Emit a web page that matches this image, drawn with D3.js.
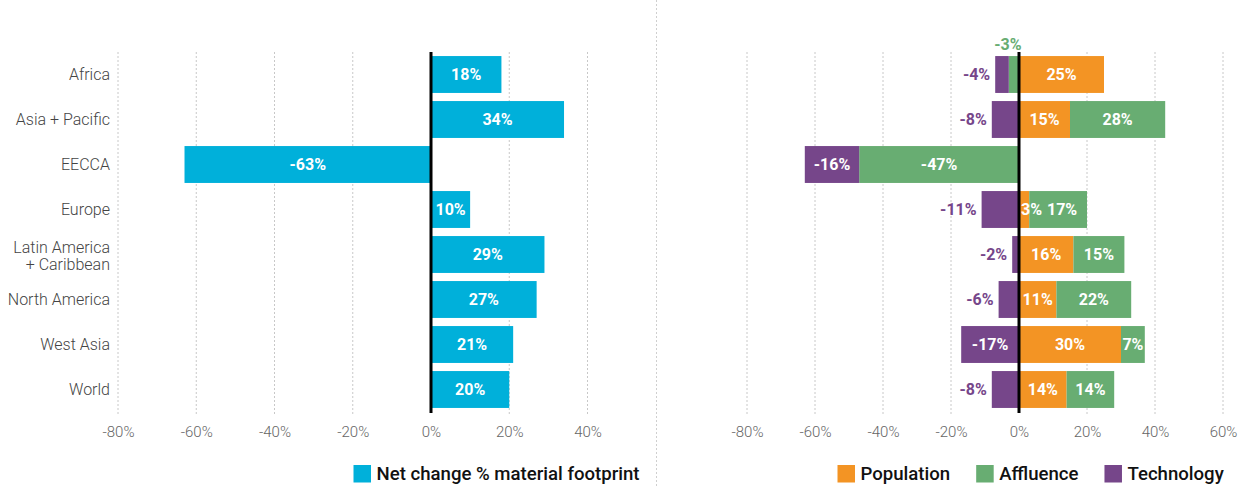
<!DOCTYPE html>
<html>
<head>
<meta charset="utf-8">
<script src="https://cdn.jsdelivr.net/npm/d3@7"></script>
<style>
  body { margin: 0; background: #fff; }
  text { font-family: Roboto, "Noto Sans", sans-serif; }
</style>
</head>
<body>
<div id="container"></div>
<script>
// data
var regions = ["Africa", "Asia + Pacific", "EECCA", "Europe", "Latin America + Caribbean", "North America", "West Asia", "World"];
var netChange = [18, 34, -63, 10, 29, 27, 21, 20];
var population = [25, 15, 0, 3, 16, 11, 30, 14];
var affluence = [-3, 28, -47, 17, 15, 22, 7, 14];
var technology = [-4, -8, -16, -11, -2, -6, -17, -8];
var tickValues = [-80, -60, -40, -20, 0, 20, 40, 60];

var width = 1250, height = 486;
var colors = { net: "#00b0da", population: "#f39424", affluence: "#68ad72", technology: "#76468a" };

var svg = d3.select("#container").append("svg")
    .attr("width", width)
    .attr("height", height);

// shared row scale
var y = d3.scaleBand()
    .domain(regions)
    .range([52, 412])
    .paddingInner(0.18)
    .paddingOuter(0.09);

var xLeft = d3.scaleLinear().domain([-80, 40]).range([118, 587.5]);
var xRight = d3.scaleLinear().domain([-80, 60]).range([747, 1223]);

// panel divider
svg.append("line")
    .attr("x1", 656.5).attr("x2", 656.5)
    .attr("y1", 0).attr("y2", height)
    .attr("stroke", "#cfcfcf")
    .attr("stroke-dasharray", "2,2");

function drawGrid(x, ticks) {
  svg.append("g").selectAll("line")
      .data(ticks.filter(function(d) { return d !== 0; }))
      .enter().append("line")
      .attr("x1", function(d) { return x(d); })
      .attr("x2", function(d) { return x(d); })
      .attr("y1", 52).attr("y2", 414)
      .attr("stroke", "#c8c8c8")
      .attr("stroke-dasharray", "2,2");

  var axis = d3.axisBottom(x)
      .tickValues(ticks)
      .tickSize(0)
      .tickPadding(0)
      .tickFormat(function(d) { return d + "%"; });
  var g = svg.append("g")
      .attr("transform", "translate(0,426)")
      .call(axis);
  g.select(".domain").remove();
  g.selectAll("text")
      .attr("dy", "0.71em")
      .style("font-size", "15px")
      .style("font-weight", 300)
      .style("font-family", "Roboto")
      .attr("fill", "#666");
}

drawGrid(xLeft, tickValues.filter(function(d) { return d <= 40; }));
drawGrid(xRight, tickValues);

// category labels
var cat = svg.append("g");
regions.forEach(function(r) {
  var cy = y(r) + y.bandwidth() / 2;
  var t = cat.append("text")
      .attr("x", 110)
      .attr("text-anchor", "end")
      .style("font-size", "16px")
      .style("font-weight", 300)
      .attr("fill", "#444");
  if (r === "Latin America + Caribbean") {
    t.append("tspan").attr("x", 110).attr("y", cy - 2).text("Latin America");
    t.append("tspan").attr("x", 110).attr("y", cy + 15).text("+ Caribbean");
  } else {
    t.attr("y", cy).attr("dy", "0.35em").text(r);
  }
});

// left bars
var labelStyle = function(sel) {
  sel.style("font-size", "16px").style("font-weight", 700).attr("dy", "0.36em");
};

svg.append("g").selectAll("rect")
    .data(netChange)
    .enter().append("rect")
    .attr("x", function(d) { return xLeft(Math.min(0, d)); })
    .attr("y", function(d, i) { return y(regions[i]); })
    .attr("width", function(d) { return Math.abs(xLeft(d) - xLeft(0)); })
    .attr("height", y.bandwidth())
    .attr("fill", colors.net);

svg.append("g").selectAll("text")
    .data(netChange)
    .enter().append("text")
    .attr("x", function(d) { return (xLeft(d) + xLeft(0)) / 2; })
    .attr("y", function(d, i) { return y(regions[i]) + y.bandwidth() / 2; })
    .attr("text-anchor", "middle")
    .attr("fill", "#fff")
    .call(labelStyle)
    .text(function(d) { return d + "%"; });

// right stacked bars
var segs = [];
regions.forEach(function(r, i) {
  var pos = 0, neg = 0;
  [["population", population[i]], ["affluence", affluence[i]], ["technology", technology[i]]].forEach(function(p) {
    var v = p[1];
    if (v === 0) return;
    var x0, x1;
    if (v > 0) { x0 = pos; x1 = pos + v; pos = x1; }
    else { x0 = neg; x1 = neg + v; neg = x1; }
    segs.push({ region: r, key: p[0], value: v, x0: x0, x1: x1 });
  });
});

svg.append("g").selectAll("rect")
    .data(segs)
    .enter().append("rect")
    .attr("x", function(d) { return xRight(Math.min(d.x0, d.x1)); })
    .attr("y", function(d) { return y(d.region); })
    .attr("width", function(d) { return Math.abs(xRight(d.x1) - xRight(d.x0)); })
    .attr("height", y.bandwidth())
    .attr("fill", function(d) { return colors[d.key]; });

svg.append("g").selectAll("text")
    .data(segs)
    .enter().append("text")
    .each(function(d) {
      var t = d3.select(this);
      var a = xRight(Math.min(d.x0, d.x1)), b = xRight(Math.max(d.x0, d.x1));
      var w = b - a;
      var cy = y(d.region) + y.bandwidth() / 2;
      t.attr("y", cy).attr("fill", "#fff").attr("text-anchor", "middle").attr("x", (a + b) / 2);
      if (w < 45 && d.value < 0 && d.key === "technology") {
        t.attr("x", a - 5).attr("text-anchor", "end").attr("fill", colors.technology);
      } else if (w < 15 && d.value < 0) {
        t.attr("y", y(d.region) - 12).attr("x", (a + b) / 2 - 6).attr("fill", colors.affluence);
      } else if (w < 15) {
        t.attr("x", a + 2).attr("text-anchor", "start");
      } else if (d.key === "affluence" && d.x0 > 0 && d.x0 < 5) {
        // nudge past a narrow population label
        t.attr("x", (a + b) / 2 + 4);
      }
    })
    .call(labelStyle)
    .text(function(d) { return d.value + "%"; });

// zero lines
[xLeft, xRight].forEach(function(x) {
  svg.append("line")
      .attr("x1", x(0)).attr("x2", x(0))
      .attr("y1", 52).attr("y2", 413)
      .attr("stroke", "#000")
      .attr("stroke-width", 3);
});

// legends
function legend(items, x0) {
  var g = svg.append("g").attr("transform", "translate(" + x0 + ",465)");
  var x = 0;
  items.forEach(function(it) {
    g.append("rect").attr("x", x).attr("y", 0).attr("width", 17.5).attr("height", 17.5).attr("fill", it.color);
    var t = g.append("text")
        .attr("x", x + 23).attr("y", 14.5)
        .style("font-size", "18.6px").style("font-weight", 500)
        .attr("fill", "#111")
        .text(it.label);
    x += 23 + t.node().getComputedTextLength() + 26;
  });
}
legend([{ label: "Net change % material footprint", color: colors.net }], 353.5);
legend([
  { label: "Population", color: colors.population },
  { label: "Affluence", color: colors.affluence },
  { label: "Technology", color: colors.technology }
], 837.5);
</script>
</body>
</html>
